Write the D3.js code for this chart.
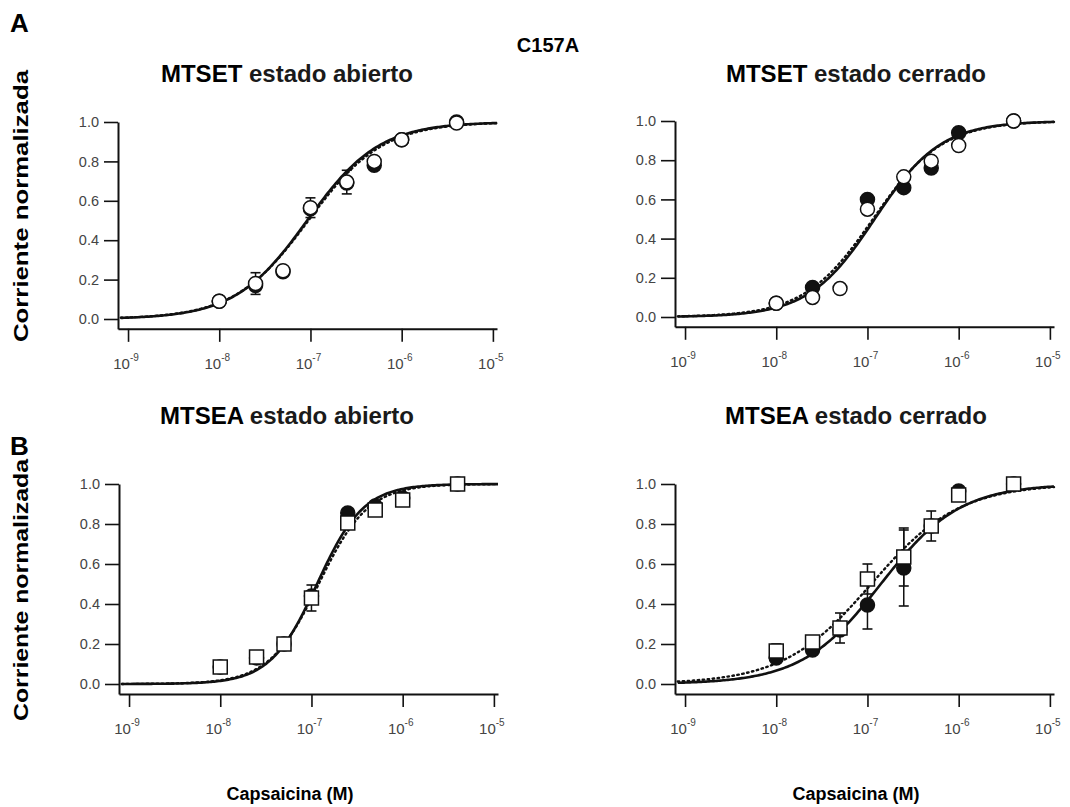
<!DOCTYPE html>
<html>
<head>
<meta charset="utf-8">
<script src="https://cdn.jsdelivr.net/npm/d3@7"></script>
<style>
  body { margin: 0; background: #fff; }
  svg { display: block; }
  text { font-family: "Liberation Sans", Arial, Helvetica, sans-serif; }
</style>
</head>
<body>
<svg id="fig" width="1070" height="807"></svg>
<script>
// Capsaicin concentrations (M)
const concentrations = [1e-8, 2.5e-8, 5e-8, 1e-7, 2.5e-7, 5e-7, 1e-6, 4e-6];
const yTicks = [0, 0.2, 0.4, 0.6, 0.8, 1.0];
const xTickExponents = [-9, -8, -7, -6, -5];

// MTSET, open state (normalized current)
const mtsetOpenFilled    = [0.09, 0.17, 0.24, 0.56, 0.69, 0.78, 0.91, 1.00];
const mtsetOpenHollow    = [0.09, 0.18, 0.245, 0.565, 0.695, 0.80, 0.91, 0.995];
const mtsetOpenHollowErr = [0, 0.055, 0, 0.05, 0.06, 0, 0, 0];
const mtsetOpenFit       = [9.2e-8, 1.10];   // EC50, Hill coefficient (solid)
const mtsetOpenFitDot    = [9.5e-8, 1.07];   // EC50, Hill coefficient (dotted)

// MTSET, closed state
const mtsetClosedFilled  = [0.07, 0.15, null, 0.60, 0.66, 0.76, 0.94, 1.00];
const mtsetClosedHollow  = [0.07, 0.10, 0.145, 0.55, 0.715, 0.795, 0.875, 1.00];
const mtsetClosedFit     = [1.2e-7, 1.20];
const mtsetClosedFitDot  = [1.15e-7, 1.15];

// MTSEA, open state
const mtseaOpenFilled    = [0.085, 0.13, 0.20, 0.44, 0.855, 0.89, 0.93, 1.00];
const mtseaOpenHollow    = [0.085, 0.135, 0.20, 0.43, 0.805, 0.87, 0.92, 1.00];
const mtseaOpenHollowErr = [0, 0, 0, 0.065, 0, 0, 0, 0];
const mtseaOpenFit       = [1.15e-7, 1.70];
const mtseaOpenFitDot    = [1.2e-7, 1.60];

// MTSEA, closed state
const mtseaClosedFilled    = [0.13, 0.17, 0.27, 0.395, 0.58, 0.79, 0.965, 1.00];
const mtseaClosedFilledErr = [0, 0, 0, 0.12, 0.19, 0, 0, 0];
const mtseaClosedHollow    = [0.165, 0.21, 0.28, 0.525, 0.635, 0.79, 0.945, 1.00];
const mtseaClosedHollowErr = [0.035, 0, 0.075, 0.075, 0.145, 0.075, 0, 0];
const mtseaClosedFit       = [1.4e-7, 1.00];
const mtseaClosedFitDot    = [1.1e-7, 0.90];

const svg = d3.select("#fig");
const ink = "#111";

const panels = [
  { reagent: "MTSET", state: " estado abierto", marker: "circle",
    filled: mtsetOpenFilled, hollow: mtsetOpenHollow,
    filledErr: null, hollowErr: mtsetOpenHollowErr,
    fit: mtsetOpenFit, fitDot: mtsetOpenFitDot,
    left: 118, top: 122, zero: 319, titleX: 287, titleY: 82 },
  { reagent: "MTSET", state: " estado cerrado", marker: "circle",
    filled: mtsetClosedFilled, hollow: mtsetClosedHollow,
    filledErr: null, hollowErr: null,
    fit: mtsetClosedFit, fitDot: mtsetClosedFitDot,
    left: 675, top: 121, zero: 317, titleX: 856, titleY: 82 },
  { reagent: "MTSEA", state: " estado abierto", marker: "square",
    filled: mtseaOpenFilled, hollow: mtseaOpenHollow,
    filledErr: null, hollowErr: mtseaOpenHollowErr,
    fit: mtseaOpenFit, fitDot: mtseaOpenFitDot,
    left: 119, top: 484, zero: 684, titleX: 287, titleY: 424 },
  { reagent: "MTSEA", state: " estado cerrado", marker: "square",
    filled: mtseaClosedFilled, hollow: mtseaClosedHollow,
    filledErr: mtseaClosedFilledErr, hollowErr: mtseaClosedHollowErr,
    fit: mtseaClosedFit, fitDot: mtseaClosedFitDot,
    left: 675, top: 484, zero: 684, titleX: 856, titleY: 424 }
];

const hill = (c, p) => 1 / (1 + Math.pow(p[0] / c, p[1]));
const logMin = -9.11, logMax = -4.955, plotWidth = 379;

function drawPanel(p) {
  const x = d3.scaleLog().domain([10 ** logMin, 10 ** logMax]).range([p.left, p.left + plotWidth]);
  const y = d3.scaleLinear().domain([0, 1]).range([p.zero, p.top]);
  const axisY = y(-0.05);
  const g = svg.append("g");

  // title
  g.append("text")
    .attr("x", p.titleX).attr("y", p.titleY)
    .attr("text-anchor", "middle")
    .attr("font-size", 24).attr("font-weight", "bold").attr("fill", "#1a1a1a")
    .call(t => {
      t.append("tspan").text(p.reagent).attr("fill", "#000");
      t.append("tspan").text(p.state);
    });

  // x axis
  const xAxis = g.append("g")
    .attr("transform", `translate(0,${axisY})`)
    .call(d3.axisBottom(x)
      .tickValues(xTickExponents.map(e => 10 ** e))
      .tickSize(13).tickSizeOuter(0).tickFormat(""));
  xAxis.select(".domain").attr("stroke", ink).attr("stroke-width", 2);
  xAxis.selectAll(".tick line").attr("stroke", ink).attr("stroke-width", 1.6);

  xTickExponents.forEach(e => {
    const t = g.append("text")
      .attr("x", x(10 ** e) - 2).attr("y", axisY + 40)
      .attr("text-anchor", "middle")
      .attr("font-size", 15).attr("fill", "#444");
    t.append("tspan").text("10");
    t.append("tspan").text("-" + Math.abs(e))
      .attr("font-size", 10).attr("dy", -8);
  });

  // y axis
  const yAxisScale = y.copy().domain([-0.05, 1]).range([axisY, y(1)]);
  const yAxis = g.append("g")
    .attr("transform", `translate(${p.left},0)`)
    .call(d3.axisLeft(yAxisScale)
      .tickValues(yTicks).tickSize(14).tickSizeOuter(0).tickPadding(5)
      .tickFormat(d3.format(".1f")));
  yAxis.select(".domain").attr("stroke", ink).attr("stroke-width", 2);
  yAxis.selectAll(".tick line").attr("stroke", ink).attr("stroke-width", 1.6);
  yAxis.selectAll(".tick text")
    .attr("font-size", 14.5).attr("fill", "#444")
    .attr("font-family", "\"Liberation Sans\", Arial, sans-serif");

  // Hill fits
  const samples = d3.range(0, 241).map(i => 10 ** (logMin + 0.03 + i * (logMax - logMin - 0.03) / 240));
  const line = d3.line().x(c => x(c)).curve(d3.curveLinear);
  g.append("path")
    .attr("d", line.y(c => y(hill(c, p.fitDot)))(samples))
    .attr("fill", "none").attr("stroke", ink).attr("stroke-width", 2.4)
    .attr("stroke-dasharray", "1.5,3.5").attr("stroke-linecap", "round");
  g.append("path")
    .attr("d", line.y(c => y(hill(c, p.fit)))(samples))
    .attr("fill", "none").attr("stroke", ink).attr("stroke-width", 2.6);

  // error bars
  function errorBars(vals, errs) {
    if (!errs) return;
    concentrations.forEach((c, i) => {
      if (vals[i] == null || !errs[i]) return;
      const cx = x(c), y1 = y(vals[i] + errs[i]), y2 = y(vals[i] - errs[i]);
      g.append("line").attr("x1", cx).attr("x2", cx).attr("y1", y1).attr("y2", y2)
        .attr("stroke", ink).attr("stroke-width", 1.5);
      [y1, y2].forEach(yy => g.append("line")
        .attr("x1", cx - 5).attr("x2", cx + 5).attr("y1", yy).attr("y2", yy)
        .attr("stroke", ink).attr("stroke-width", 1.6));
    });
  }
  errorBars(p.filled, p.filledErr);
  errorBars(p.hollow, p.hollowErr);

  // markers: filled circles first, hollow markers on top
  concentrations.forEach((c, i) => {
    if (p.filled[i] == null) return;
    g.append("circle").attr("cx", x(c)).attr("cy", y(p.filled[i])).attr("r", 7)
      .attr("fill", ink).attr("stroke", ink).attr("stroke-width", 1.5);
  });
  concentrations.forEach((c, i) => {
    if (p.hollow[i] == null) return;
    if (p.marker === "circle") {
      g.append("circle").attr("cx", x(c)).attr("cy", y(p.hollow[i])).attr("r", 7)
        .attr("fill", "#fff").attr("stroke", ink).attr("stroke-width", 1.5);
    } else {
      g.append("rect").attr("x", x(c) - 7).attr("y", y(p.hollow[i]) - 7)
        .attr("width", 14).attr("height", 14)
        .attr("fill", "#fff").attr("stroke", ink).attr("stroke-width", 1.5);
    }
  });
}

panels.forEach(drawPanel);

// figure labels
const label = (txt, x, y, size, extra) => {
  const t = svg.append("text").attr("x", x).attr("y", y).text(txt)
    .attr("font-size", size).attr("font-weight", "bold").attr("fill", "#000");
  if (extra) extra(t);
  return t;
};
label("A", 10, 32, 26);
label("B", 10, 455, 26);
label("C157A", 548, 52, 20, t => t.attr("text-anchor", "middle"));
label("Corriente normalizada", 0, 0, 20, t => t.attr("text-anchor", "middle")
  .attr("textLength", 272).attr("lengthAdjust", "spacingAndGlyphs")
  .attr("transform", "translate(28,206) rotate(-90)"));
label("Corriente normalizada", 0, 0, 20, t => t.attr("text-anchor", "middle")
  .attr("textLength", 262).attr("lengthAdjust", "spacingAndGlyphs")
  .attr("transform", "translate(28,590) rotate(-90)"));
label("Capsaicina (M)", 290, 800, 18, t => t.attr("text-anchor", "middle"));
label("Capsaicina (M)", 856, 800, 18, t => t.attr("text-anchor", "middle"));
</script>
</body>
</html>
